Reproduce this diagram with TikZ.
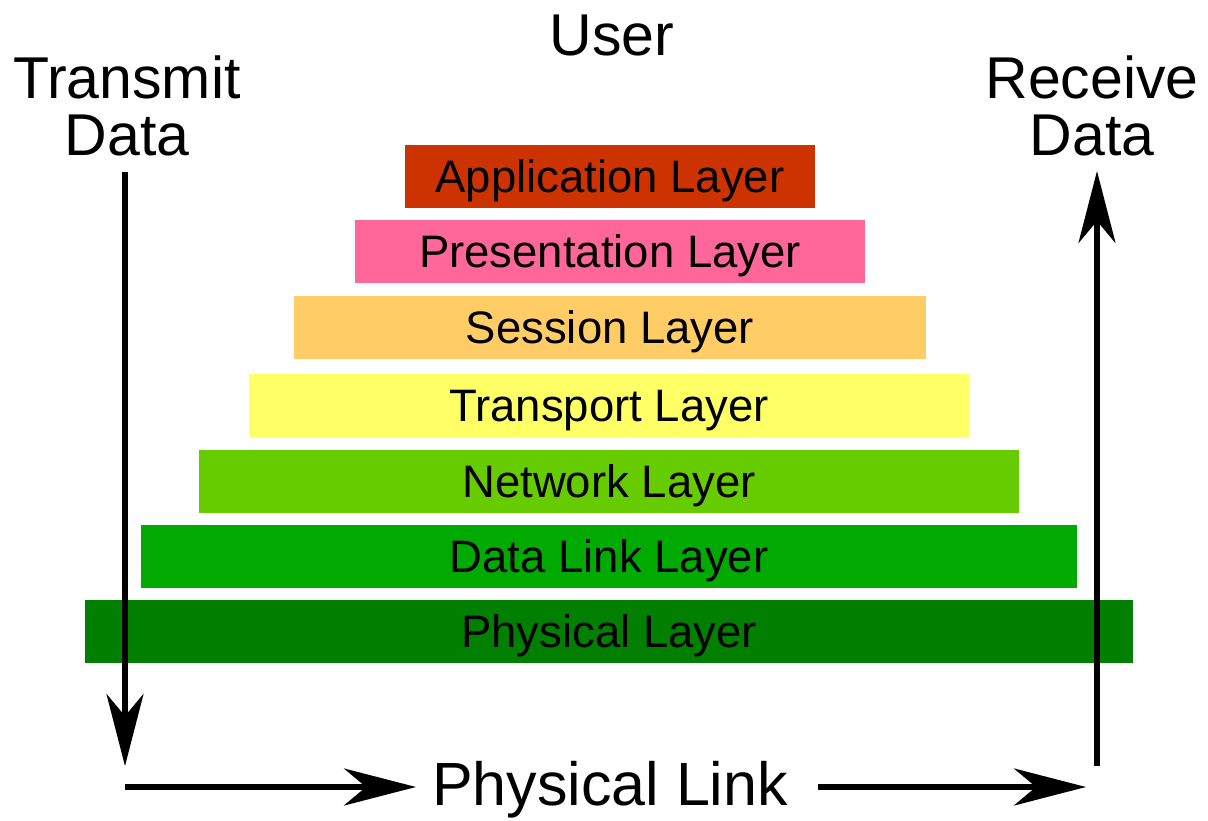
\documentclass[tikz,border=0pt]{standalone}
\usepackage{fontspec}
\setmainfont{Liberation Sans}
\usetikzlibrary{arrows.meta}
\definecolor{appc}{HTML}{CC3300}
\definecolor{presc}{HTML}{FF6699}
\definecolor{sessc}{HTML}{FFCC66}
\definecolor{transc}{HTML}{FFFF66}
\definecolor{netc}{HTML}{66CC00}
\definecolor{dlc}{HTML}{00AA00}
\definecolor{phyc}{HTML}{007F00}
\begin{document}
\begin{tikzpicture}[x=1pt,y=-1pt,
  layer/.style={draw=none,minimum height=63pt,inner sep=0pt,
    font=\fontsize{45.5}{45}\selectfont,text height=32.5pt,text depth=0pt},
  biglabel/.style={inner sep=0pt,align=center,font=\fontsize{59}{57}\selectfont},
  arr/.style={line width=5.5pt,-{Stealth[length=72pt,width=37pt,inset=22pt]}}]
\useasboundingbox (0,0) rectangle (1208,821);
\fill[white] (0,0) rectangle (1208,821);

\node[layer,fill=appc,minimum width=410pt] (app) at (610,176.5) {Application Layer};
\node[layer,fill=presc,minimum width=510pt] (pres) at (610,251.5) {Presentation Layer};
\node[layer,fill=sessc,minimum width=632pt] (sess) at (610,327) {Session Layer};
\node[layer,fill=transc,minimum width=720pt] (trans) at (609,405) {Transport Layer};
\node[layer,fill=netc,minimum width=820pt] (net) at (609,481) {Network Layer};
\node[layer,fill=dlc,minimum width=936pt] (dl) at (609,556) {Data Link Layer};
\node[layer,fill=phyc,minimum width=1048pt] (phy) at (609,631.5) {Physical Layer};

\node[biglabel,anchor=base] (user) at (612,56) {User};
\node[biglabel,anchor=north] (tx) at (127,56) {Transmit\\Data};
\node[biglabel,anchor=north] (rx) at (1092,56) {Receive\\Data};
\node[biglabel,anchor=base,font=\fontsize{61}{61}\selectfont] (plink) at (610,805) {Physical Link};

\coordinate (txs) at (125,172);
\coordinate (txe) at (125,766);
\coordinate (bls) at (125,787);
\coordinate (ble) at (416,787);
\coordinate (brs) at (818,787);
\coordinate (bre) at (1086,787);
\coordinate (rxs) at (1097,766);
\coordinate (rxe) at (1097,171);

\draw[arr] (txs) -- (txe);
\draw[arr] (bls) -- (ble);
\draw[arr] (brs) -- (bre);
\draw[arr] (rxs) -- (rxe);
\end{tikzpicture}
\end{document}
